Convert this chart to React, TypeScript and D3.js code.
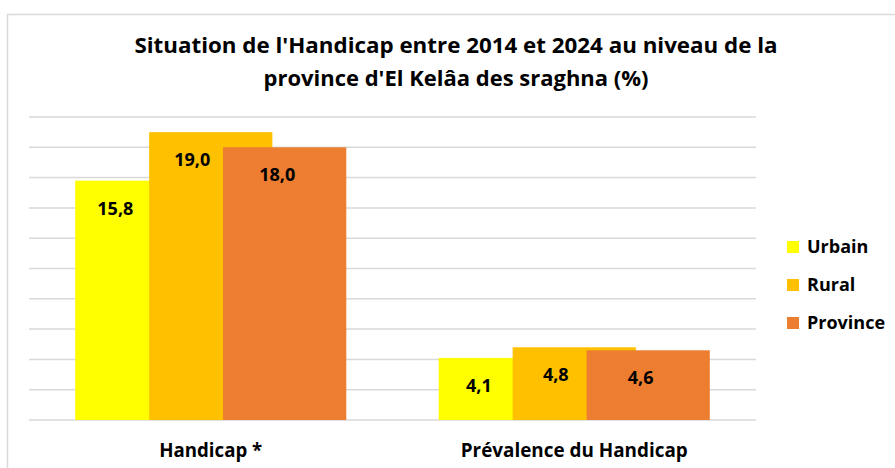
import React from "react";
import * as d3 from "d3";

const categories = ["Handicap *", "Prévalence du Handicap"];
const seriesNames = ["Urbain", "Rural", "Province"];
const urbainValues = [15.8, 4.1];
const ruralValues = [19.0, 4.8];
const provinceValues = [18.0, 4.6];
const yTicks = [0, 2, 4, 6, 8, 10, 12, 14, 16, 18, 20];
const titleLines = [
  "Situation de l'Handicap entre 2014 et 2024 au niveau de la",
  "province d'El Kelâa des sraghna (%)",
];

const colors = ["#FFFF00", "#FFC000", "#ED7D31"];
const labelDx = [-21.5, -18.5, -7.5];
const FONT = "'Open Sans', 'Liberation Sans', sans-serif";

export default function App() {
  const W = 895;
  const H = 468;
  const left = 29;
  const right = 756;
  const top = 117;
  const bottom = 420;

  const y = d3.scaleLinear().domain([0, 20]).range([bottom, top]);
  const x = d3.scaleBand().domain(categories).range([left, right]).paddingInner(0).paddingOuter(0);
  const band = x.bandwidth();
  // Excel-like: gap width 75%, overlap 40%
  const barW = band / (0.75 + 1 + 2 * 0.6);
  const step = barW * 0.6;
  const groupW = barW + 2 * step;

  const series = [urbainValues, ruralValues, provinceValues];
  const fmt = (v: number) => v.toFixed(1).replace(".", ",");

  return (
    <svg width={W} height={H} style={{ position: "absolute", left: 0, top: 0, background: "#fff" }}>
      <rect x={7.5} y={14.5} width={1200} height={1200} fill="#fff" stroke="#D9D9D9" strokeWidth={1.5} />
      {titleLines.map((t, i) => (
        <text
          key={i}
          x={456}
          y={53 + i * 33}
          textAnchor="middle"
          fontFamily={FONT}
          fontWeight={700}
          fontSize={22}
          fill="#000"
          textLength={i === 0 ? 643 : 385}
          lengthAdjust="spacingAndGlyphs"
        >
          {t}
        </text>
      ))}
      {yTicks.map((t) => (
        <line key={t} x1={left} x2={right} y1={y(t)} y2={y(t)} stroke="#D9D9D9" strokeWidth={1.5} />
      ))}
      {series.map((vals, si) =>
        categories.map((c, ci) => {
          const x0 = (x(c) as number) + (band - groupW) / 2 + si * step;
          return (
            <rect
              key={`${si}-${ci}`}
              x={x0}
              y={y(vals[ci])}
              width={barW}
              height={bottom - y(vals[ci])}
              fill={colors[si]}
            />
          );
        })
      )}
      {series.map((vals, si) =>
        categories.map((c, ci) => {
          const x0 = (x(c) as number) + (band - groupW) / 2 + si * step;
          return (
            <text
              key={`l-${si}-${ci}`}
              x={x0 + barW / 2 + labelDx[si]}
              y={y(vals[ci]) + 34}
              textAnchor="middle"
              fontFamily={FONT}
              fontWeight={700}
              fontSize={18}
              fill="#000"
            >
              {fmt(vals[ci])}
            </text>
          );
        })
      )}
      {categories.map((c, ci) => (
        <text
          key={c}
          x={(x(c) as number) + band / 2}
          y={457}
          textAnchor="middle"
          fontFamily={FONT}
          fontWeight={700}
          fontSize={19}
          fill="#000"
          textLength={ci === 0 ? 103 : 227}
          lengthAdjust="spacingAndGlyphs"
        >
          {c}
        </text>
      ))}
      {seriesNames.map((s, i) => (
        <g key={s} transform={`translate(787, ${247 + i * 38})`}>
          <rect x={0} y={-6} width={12} height={12} fill={colors[i]} />
          <text
            x={20}
            y={0}
            dy="0.36em"
            fontFamily={FONT}
            fontWeight={700}
            fontSize={18}
            fill="#000"
          >
            {s}
          </text>
        </g>
      ))}
    </svg>
  );
}
